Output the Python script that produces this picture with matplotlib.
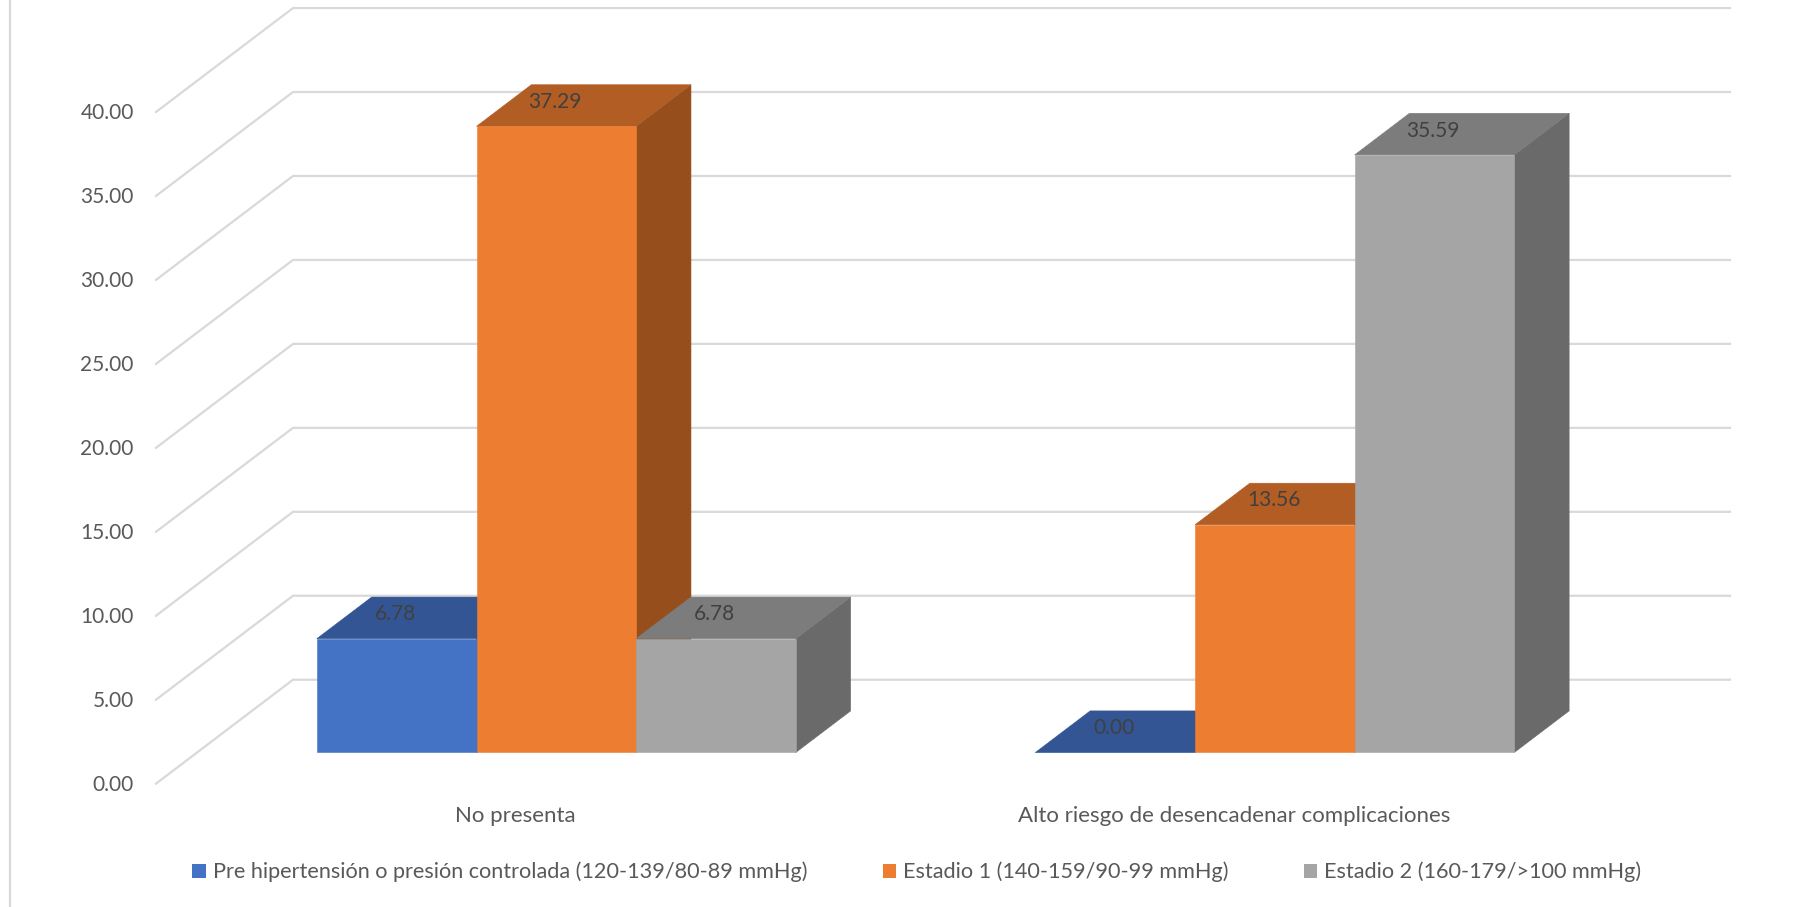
import matplotlib
matplotlib.use("Agg")
import matplotlib.pyplot as plt
from matplotlib.patches import Polygon, Patch

plt.rcParams['font.family'] = ['Lato', 'DejaVu Sans']

categories = ['No presenta', 'Alto riesgo de desencadenar complicaciones']
series_names = ['Pre hipertensión o presión controlada (120-139/80-89 mmHg)',
                'Estadio 1 (140-159/90-99 mmHg)',
                'Estadio 2 (160-179/>100 mmHg)']
pre_hipertension = [6.78, 0.00]
estadio_1 = [37.29, 13.56]
estadio_2 = [6.78, 35.59]
y_ticks = [0, 5, 10, 15, 20, 25, 30, 35, 40]

# front, top and side colour of each series
front_colors = ['#4472C4', '#ED7D31', '#A5A5A5']
top_colors = ['#335593', '#B15D24', '#7C7C7C']
side_colors = ['#2E4D85', '#964F1C', '#6A6A6A']

# oblique projection: how far the back wall sits from the front plane
depth_x = 0.1907
depth_y = 6.19
bar_width = 0.2222
bar_front = 0.30
bar_back = 0.70


def proj(x, v, d):
    return (x + d * depth_x, v + d * depth_y)


fig = plt.figure(figsize=(18.14, 9.07), dpi=100)
ax = fig.add_axes([0, 0, 1, 1])
ax.set_xlim(-0.7171, 1.8076)
ax.set_ylim(-7.345, 46.67)
ax.axis('off')

grid_color = '#D9D9D9'

# frame line on the left of the picture
ax.plot([-0.7032, -0.7032], [-7.345, 46.67], color=grid_color, lw=1.6, solid_capstyle='butt')

# wall and floor gridlines, with the value labels
for v in y_ticks:
    p0 = proj(-0.5, v, 0)
    p1 = proj(-0.5, v, 1)
    p2 = proj(1.5, v, 1)
    ax.plot([p0[0], p1[0], p2[0]], [p0[1], p1[1], p2[1]], color=grid_color, lw=1.6, zorder=1)
    ax.annotate('%.2f' % v, xy=p0, xytext=(-16, -1), textcoords='offset points',
                ha='right', va='center', fontsize=15, color='#595959')

# bars, left to right so each one covers the one before
all_values = [pre_hipertension, estadio_1, estadio_2]
z = 2
for c in range(len(categories)):
    for s in range(3):
        v = all_values[s][c]
        left = c - 1.5 * bar_width + s * bar_width
        right = left + bar_width
        side = [proj(right, 0, bar_front), proj(right, 0, bar_back),
                proj(right, v, bar_back), proj(right, v, bar_front)]
        top = [proj(left, v, bar_front), proj(right, v, bar_front),
               proj(right, v, bar_back), proj(left, v, bar_back)]
        front = [proj(left, 0, bar_front), proj(right, 0, bar_front),
                 proj(right, v, bar_front), proj(left, v, bar_front)]
        # thin edge in the same colour closes the seams between the faces
        ax.add_patch(Polygon(side, closed=True, facecolor=side_colors[s], edgecolor=side_colors[s], lw=0.4, zorder=z))
        ax.add_patch(Polygon(top, closed=True, facecolor=top_colors[s], edgecolor=top_colors[s], lw=0.4, zorder=z))
        ax.add_patch(Polygon(front, closed=True, facecolor=front_colors[s], edgecolor=front_colors[s], lw=0.4, zorder=z))
        z += 1

# data labels go on top of everything
for c in range(len(categories)):
    for s in range(3):
        v = all_values[s][c]
        left = c - 1.5 * bar_width + s * bar_width
        ax.annotate('%.2f' % v, xy=proj(left + bar_width / 2, v, bar_front), xytext=(-1, 17.5),
                    textcoords='offset points', ha='center', va='center',
                    fontsize=15, color='#404040', zorder=50)

# category labels
for c in range(len(categories)):
    ax.annotate(categories[c], xy=(c, 0), xytext=(0, -23), textcoords='offset points',
                ha='center', va='center', fontsize=16, color='#595959')

handles = [Patch(facecolor=front_colors[i], edgecolor='none') for i in range(3)]
fig.legend(handles, series_names, loc='center', bbox_to_anchor=(0.5055, 0.0385), ncol=3, frameon=False,
           fontsize=15.6, labelcolor='#595959', handlelength=0.62, handleheight=0.62,
           handletextpad=0.33, columnspacing=3.47, borderpad=0)

plt.savefig('out.png', dpi=100)
